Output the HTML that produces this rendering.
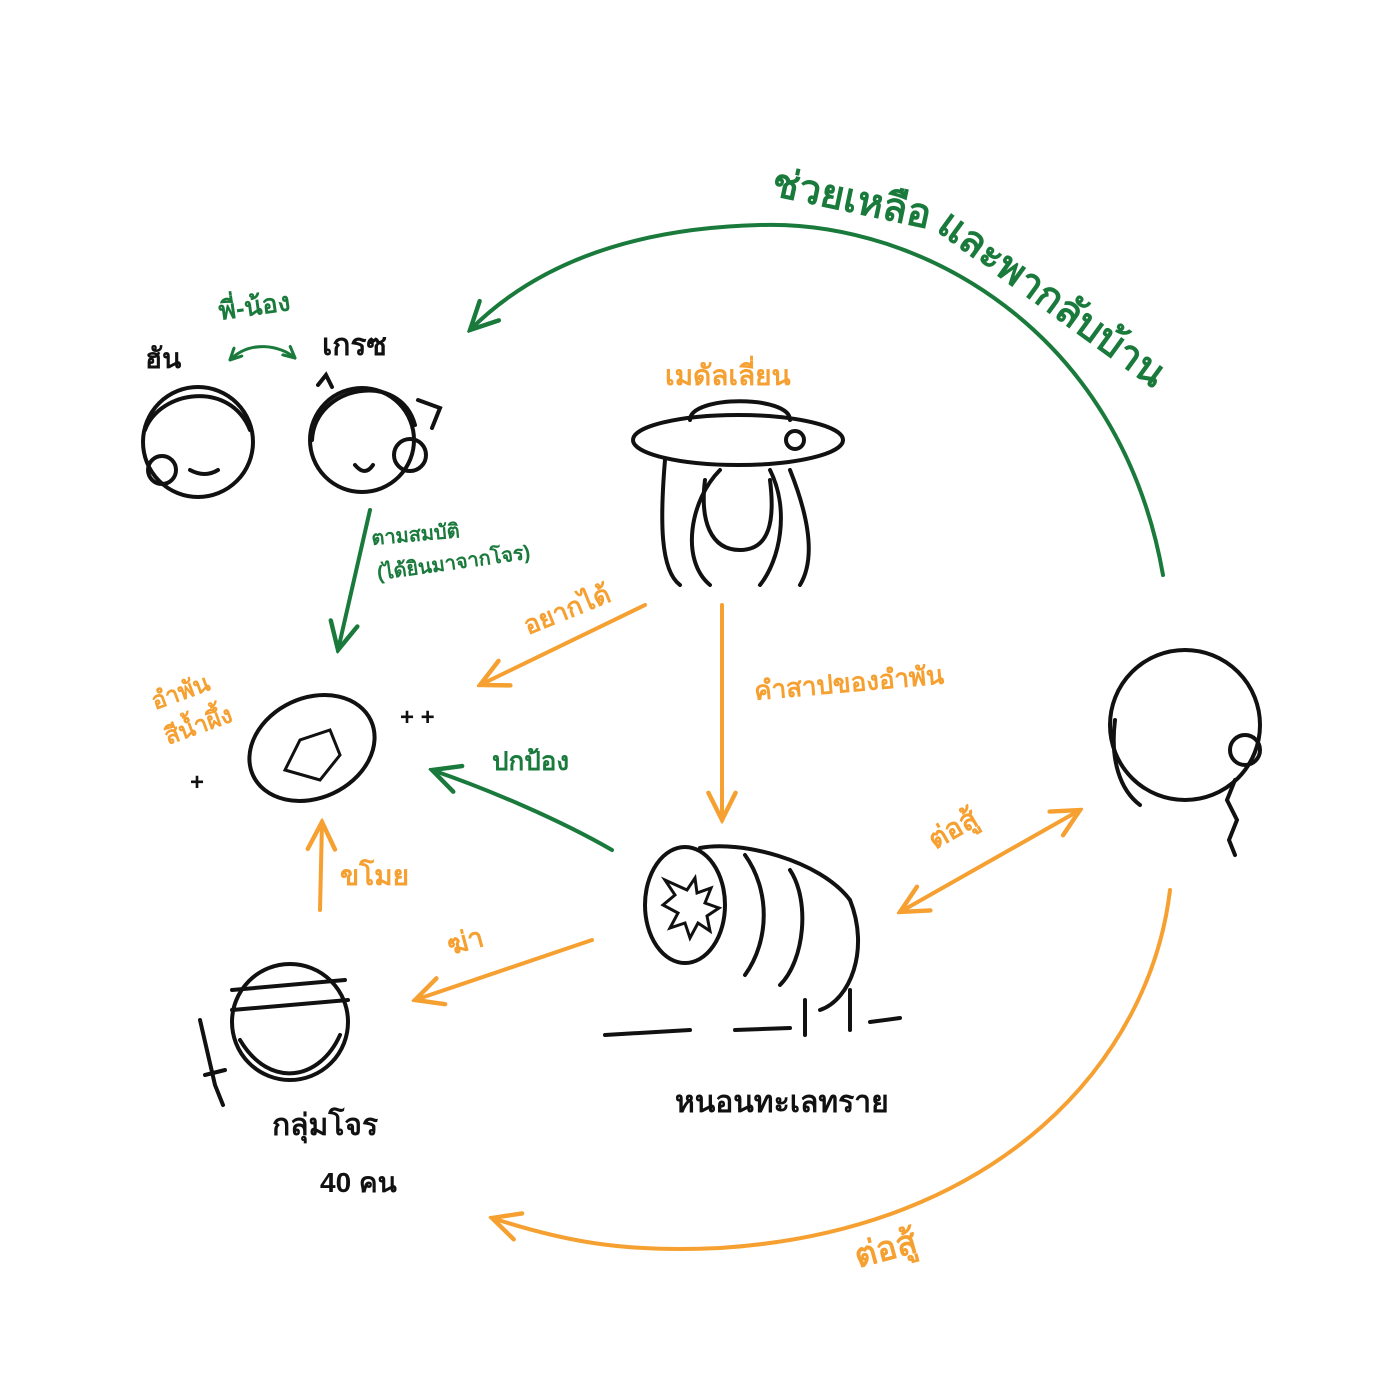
<!DOCTYPE html>
<html><head><meta charset="utf-8"><style>
html,body{margin:0;padding:0;background:#fff;}
svg{display:block;}
text{font-family:"Liberation Sans","DejaVu Sans",sans-serif;font-weight:bold;}
.g{fill:#1a7a3c;}.o{fill:#f5a030;}.k{fill:#111;}
</style></head><body>
<svg width="1400" height="1400" viewBox="0 0 1400 1400" xmlns="http://www.w3.org/2000/svg">
<defs>
<marker id="ag" markerWidth="34" markerHeight="34" refX="9" refY="5" orient="auto" markerUnits="userSpaceOnUse" viewBox="0 0 10 10"><path d="M1,1 L9,5 L1,9" fill="none" stroke="#1a7a3c" stroke-width="1.3" stroke-linecap="round"/></marker>
<marker id="ao" markerWidth="34" markerHeight="34" refX="9" refY="5" orient="auto" markerUnits="userSpaceOnUse" viewBox="0 0 10 10"><path d="M1,1 L9,5 L1,9" fill="none" stroke="#f5a030" stroke-width="1.3" stroke-linecap="round"/></marker>
<marker id="ags" markerWidth="14" markerHeight="14" refX="9" refY="5" orient="auto-start-reverse" markerUnits="userSpaceOnUse" viewBox="0 0 10 10"><path d="M1,1 L9,5 L1,9" fill="none" stroke="#1a7a3c" stroke-width="2.2" stroke-linecap="round"/></marker>
<marker id="aos" markerWidth="34" markerHeight="34" refX="9" refY="5" orient="auto-start-reverse" markerUnits="userSpaceOnUse" viewBox="0 0 10 10"><path d="M1,1 L9,5 L1,9" fill="none" stroke="#f5a030" stroke-width="1.3" stroke-linecap="round"/></marker>
</defs>
<g fill="none" stroke-linecap="round">
<path d="M1163,575 C1120,330 920,220 760,225 C640,228 540,260 470,330" stroke="#1a7a3c" stroke-width="4" marker-end="url(#ag)"/>
<path d="M370,510 L338,650" stroke="#1a7a3c" stroke-width="4" marker-end="url(#ag)"/>
<path d="M612,850 C560,820 490,790 432,770" stroke="#1a7a3c" stroke-width="4" marker-end="url(#ag)"/>
<path d="M230,360 C250,340 280,345 295,358" stroke="#1a7a3c" stroke-width="3" marker-end="url(#ags)" marker-start="url(#ags)"/>
<path d="M645,605 L480,685" stroke="#f5a030" stroke-width="4" marker-end="url(#ao)"/>
<path d="M722,605 L722,820" stroke="#f5a030" stroke-width="4" marker-end="url(#ao)"/>
<path d="M900,912 L1080,810" stroke="#f5a030" stroke-width="4" marker-end="url(#aos)" marker-start="url(#aos)"/>
<path d="M320,910 L322,822" stroke="#f5a030" stroke-width="4" marker-end="url(#ao)"/>
<path d="M592,940 L415,1000" stroke="#f5a030" stroke-width="4" marker-end="url(#ao)"/>
<path d="M1170,890 C1150,1060 1000,1230 720,1248 C620,1253 560,1240 492,1218" stroke="#f5a030" stroke-width="4" marker-end="url(#ao)"/>
</g>
<g fill="none" stroke="#111" stroke-width="4" stroke-linecap="round">
<circle cx="198" cy="442" r="55"/>
<path d="M145,430 C160,390 230,380 250,430"/>
<circle cx="162" cy="470" r="14"/>
<path d="M190,470 q15,8 28,0"/>
<circle cx="362" cy="440" r="52"/>
<path d="M312,440 C315,385 400,370 415,425"/>
<circle cx="410" cy="455" r="16"/><path d="M418,400 l22,8 -8,20"/><path d="M318,385 l8,-10 6,12"/>
<path d="M355,465 q10,12 18,0"/>
<ellipse cx="738" cy="440" rx="105" ry="25"/>
<path d="M690,420 C690,395 790,395 790,420"/>
<path d="M665,460 C660,520 660,570 680,585 M720,470 C690,500 680,560 710,585"/>
<path d="M790,470 C810,520 815,560 800,585 M770,470 C790,510 780,560 760,585"/>
<path d="M705,480 C700,520 710,550 740,550 C770,550 775,520 770,480"/>
<circle cx="795" cy="440" r="9"/>
<circle cx="1185" cy="725" r="75"/>
<path d="M1115,720 C1110,760 1120,790 1140,805"/>
<circle cx="1245" cy="750" r="15"/>
<path d="M1235,780 l-8,20 l10,20 l-8,20 l6,15"/>
<ellipse cx="312" cy="748" rx="65" ry="50" transform="rotate(-25 312 748)"/>
<path d="M285,770 l15,-30 l30,-10 l10,25 l-20,25 z" stroke-width="3"/>
<ellipse cx="685" cy="905" rx="40" ry="58"/>
<path d="M665,880 l10,15 l-12,10 l15,8 l-8,15 l15,-5 l5,15 l8,-15 l12,8 l-3,-15 l12,-8 l-14,-5 l6,-15 l-14,5 l-2,-15 l-8,12 z" stroke-width="3"/>
<path d="M700,848 C740,840 820,860 850,900 C870,950 850,1000 820,1010"/>
<path d="M745,855 C770,890 770,940 745,975 M790,870 C810,900 805,960 780,985"/>
<path d="M805,1000 L805,1035 M850,990 L850,1030"/>
<path d="M605,1035 L690,1030 M735,1030 L790,1028 M870,1022 L900,1018"/>
<circle cx="290" cy="1022" r="58"/>
<path d="M232,1010 L348,1000 M232,990 L345,980"/>
<path d="M240,1040 C270,1090 320,1080 340,1035"/>
<path d="M200,1020 L215,1085 M205,1075 l20,-5 M215,1085 l8,20"/>
</g>
<text class="g" font-size="40" transform="translate(770,195) rotate(12)">ช่วยเหลือ</text>
<text class="g" font-size="40" transform="translate(935,230) rotate(36)">และพากลับบ้าน</text>
<text class="g" font-size="26" transform="translate(220,320) rotate(-8)">พี่-น้อง</text>
<text class="g" font-size="20" transform="translate(372,545) rotate(-5)">ตามสมบัติ</text>
<text class="g" font-size="20" transform="translate(378,580) rotate(-8)">(ได้ยินมาจากโจร)</text>
<text class="g" font-size="26" x="492" y="770">ปกป้อง</text>
<text class="o" font-size="28" x="665" y="385">เมดัลเลี่ยน</text>
<text class="o" font-size="26" transform="translate(528,635) rotate(-22)">อยากได้</text>
<text class="o" font-size="26" transform="translate(755,700) rotate(-5)">คำสาปของอำพัน</text>
<text class="o" font-size="24" transform="translate(155,710) rotate(-20)">อำพัน</text>
<text class="o" font-size="24" transform="translate(168,745) rotate(-20)">สีน้ำผึ้ง</text>
<text class="o" font-size="28" transform="translate(935,850) rotate(-30)">ต่อสู้</text>
<text class="o" font-size="28" x="340" y="885">ขโมย</text>
<text class="o" font-size="28" transform="translate(450,955) rotate(-15)">ฆ่า</text>
<text class="o" font-size="34" transform="translate(858,1268) rotate(-15)">ต่อสู้</text>
<text class="k" font-size="28" x="145" y="368">ฮัน</text>
<text class="k" font-size="30" x="322" y="355">เกรซ</text>
<text class="k" font-size="30" x="675" y="1112">หนอนทะเลทราย</text>
<text class="k" font-size="30" x="272" y="1135">กลุ่มโจร</text>
<text class="k" font-size="28" x="320" y="1192">40 คน</text>
<text class="k" font-size="24" x="400" y="725">+ +</text>
<text class="k" font-size="24" x="190" y="790">+</text>
</svg>
</body></html>
